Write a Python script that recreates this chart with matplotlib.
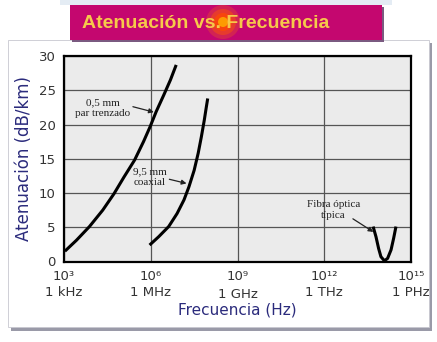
import matplotlib.pyplot as plt
import matplotlib.patches as mpatches
import numpy as np

# curves (log10 of frequency in Hz, attenuation in dB/km)
tp_logf = [3.03, 3.43, 3.88, 4.34, 4.73, 5.07, 5.44, 5.75, 5.98, 6.19, 6.45, 6.68, 6.88]
tp_db = [1.5, 3.1, 5.1, 7.5, 9.9, 12.3, 14.8, 17.5, 19.7, 21.9, 24.3, 26.5, 28.7]

coax_logf = [5.96, 6.27, 6.62, 6.91, 7.15, 7.32, 7.50, 7.64, 7.75, 7.85, 7.92, 7.97]
coax_db = [2.4, 3.6, 5.1, 7.0, 9.0, 10.9, 13.3, 15.8, 18.2, 20.6, 22.5, 23.8]

fiber_logf = [13.69, 13.79, 13.88, 13.96, 14.08, 14.19, 14.31, 14.40, 14.48]
fiber_db = [5.1, 3.6, 1.9, 0.7, 0.1, 0.45, 1.7, 3.4, 5.1]

freq_ticks = [1e3, 1e6, 1e9, 1e12, 1e15]
freq_labels = ["10³\n1 kHz", "10⁶\n1 MHz", "10⁹\n1 GHz", "10¹²\n1 THz", "10¹⁵\n1 PHz"]
db_ticks = [0, 5, 10, 15, 20, 25, 30]

navy = "#2B2B7C"
W, H = 437, 342

fig = plt.figure(figsize=(W / 100, H / 100), dpi=100)
fig.patch.set_facecolor("white")

def px_rect(x0, y0, x1, y1, **kw):
    # rectangle given in pixel coords from top-left
    r = mpatches.Rectangle((x0 / W, 1 - y1 / H), (x1 - x0) / W, (y1 - y0) / H,
                           transform=fig.transFigure, **kw)
    fig.patches.append(r)

# white panel with shadow
px_rect(11, 43, 432, 331, facecolor="#9A9AA8", edgecolor="none", zorder=0)
px_rect(8, 40, 429, 327, facecolor="white", edgecolor="#C8C8D0", lw=0.6, zorder=1)

# title banner
px_rect(60, 0, 392, 5, facecolor="#E4ECF4", edgecolor="none", zorder=1)
px_rect(72, 7, 384, 42, facecolor="#7A5A80", edgecolor="none", zorder=2)
px_rect(70, 5, 382, 40, facecolor="#C4076F", edgecolor="none", zorder=3)

# glow spot behind the title
for r, c, a in [(17, "#FF7A00", 0.25), (13, "#FF5A00", 0.45), (9, "#FF4A00", 0.7), (5, "#FFB000", 0.8)]:
    fig.patches.append(mpatches.Ellipse((223 / W, 1 - 22 / H), 2 * r / W, 2 * r / H,
                                        transform=fig.transFigure, facecolor=c,
                                        edgecolor="none", alpha=a, zorder=4))

fig.text(82 / W, 1 - 24 / H, "Atenuación vs. Frecuencia", color="#F6C94A",
         fontsize=14, fontweight="bold", family="Liberation Sans",
         ha="left", va="center", zorder=5)

ax = fig.add_axes([64 / W, 1 - 261.5 / H, (411 - 64) / W, (261.5 - 56) / H])
ax.set_facecolor("#EBEBEB")
ax.set_zorder(6)

ax.plot(10 ** np.array(tp_logf), tp_db, color="black", lw=2.2, solid_capstyle="butt")
ax.plot(10 ** np.array(coax_logf), coax_db, color="black", lw=2.2, solid_capstyle="butt")
ax.plot(10 ** np.array(fiber_logf), fiber_db, color="black", lw=2.2, solid_capstyle="butt")

ax.set_xscale("log")
ax.set_xlim(1e3, 1e15)
ax.set_ylim(0, 30)
ax.set_xticks(freq_ticks)
ax.set_xticklabels(freq_labels)
ax.minorticks_off()
ax.set_yticks(db_ticks)
ax.tick_params(length=0, labelsize=9.5, labelcolor="#333333")
ax.tick_params(axis="x", pad=6)
ax.tick_params(axis="y", pad=6)
for lab in ax.get_xticklabels():
    lab.set_linespacing(1.3)
ax.get_xticklabels()[2].set_linespacing(1.55)

ax.grid(True, color="#555555", lw=0.9)
ax.set_axisbelow(True)
for s in ax.spines.values():
    s.set_linewidth(1.6)
    s.set_color("black")

ax.set_ylabel("Atenuación (dB/km)", color=navy, fontsize=12, labelpad=4)
ax.set_xlabel("Frecuencia (Hz)", color=navy, fontsize=11, labelpad=1)

note = dict(fontsize=8, family="Liberation Serif", color="#222222",
            ha="center", va="center", linespacing=1.25)
arrow = dict(arrowstyle="-|>", color="#222222", lw=0.9, mutation_scale=7)

ax.text(10 ** 4.35, 22.4, "0,5 mm\npar trenzado", **note)
ax.annotate("", xy=(10 ** 6.2, 21.7), xytext=(10 ** 5.29, 22.7), arrowprops=arrow)

ax.text(10 ** 5.98, 12.3, "9,5 mm\ncoaxial", **note)
ax.annotate("", xy=(10 ** 7.33, 11.3), xytext=(10 ** 6.55, 12.1), arrowprops=arrow)

ax.text(10 ** 12.32, 7.5, "Fibra óptica\ntípica", **note)
ax.annotate("", xy=(10 ** 13.78, 4.1), xytext=(10 ** 12.91, 6.45), arrowprops=arrow)

fig.savefig("out.png", dpi=100)
